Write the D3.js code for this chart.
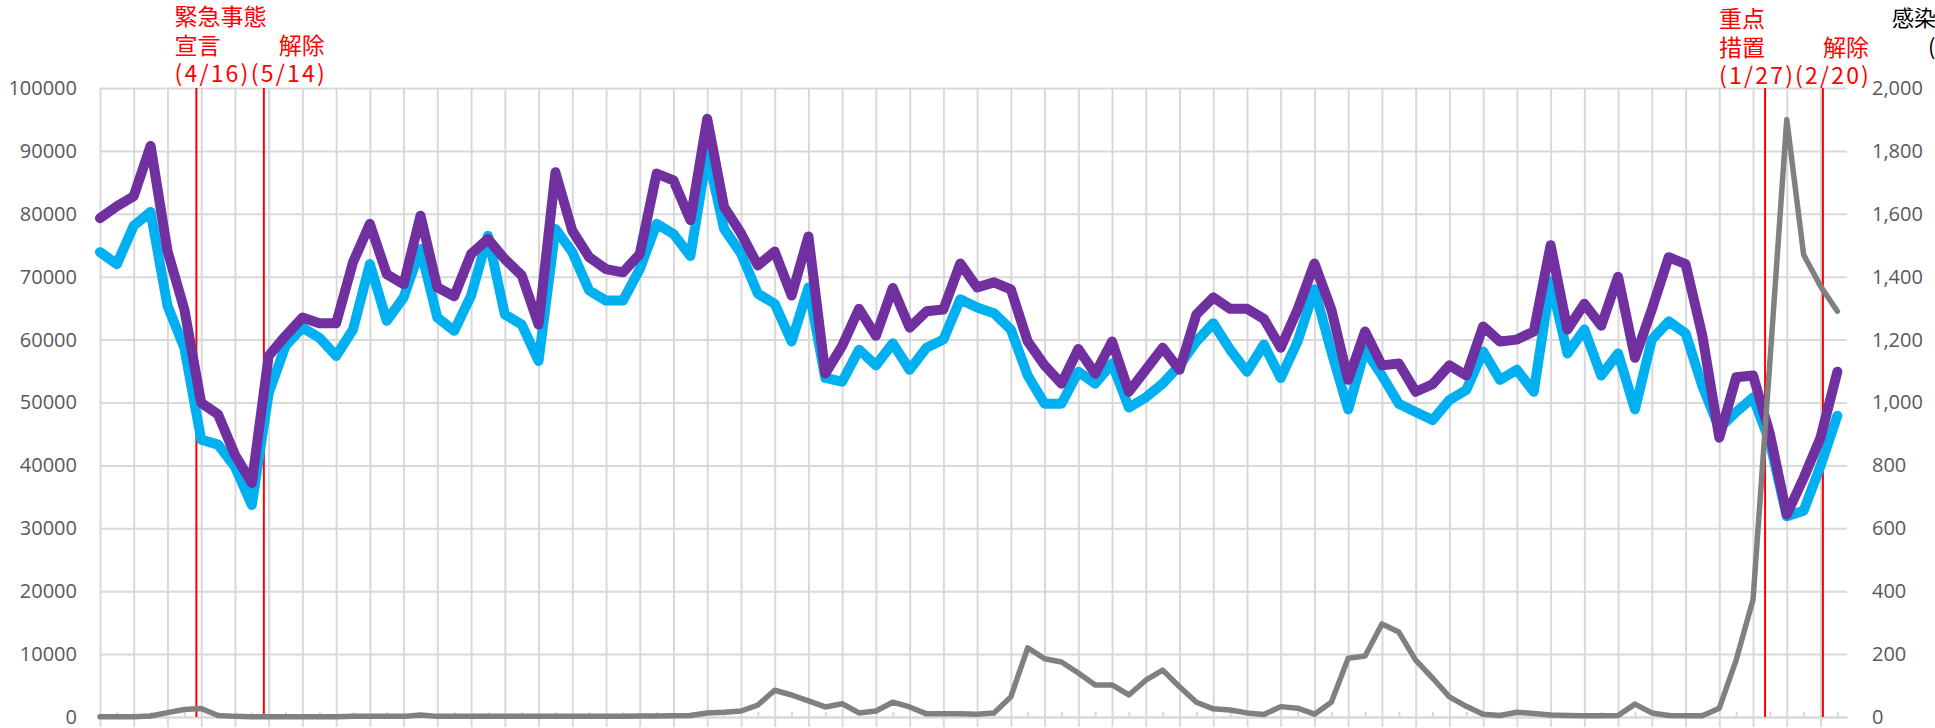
<!DOCTYPE html>
<html>
<head>
<meta charset="utf-8">
<script src="https://cdn.jsdelivr.net/npm/d3@7"></script>
<style>
  html, body { margin: 0; padding: 0; background: #fff; }
  svg { display: block; }
</style>
</head>
<body>
<div id="chart"></div>
<script>
// weekly series, first week starts 2020-03-07
const startDate = '2020-03-07'
const axisEndDate = '2022-03-02'

// purple line (left axis)
const purpleVals = [
  79300, 81200, 82800, 90800, 74100, 64800, 49950, 48100, 41700, 37200,
  57400, 60600, 63500, 62600, 62600, 72300, 78400, 70400, 68800, 79700,
  68300, 66900, 73600, 76000, 72800, 70200, 62400, 86600, 77300, 73100,
  71200, 70700, 73600, 86400, 85300, 79000, 95100, 81100, 76900, 71800,
  74000, 67000, 76400, 54600, 59000, 64900, 60600, 68200, 61900, 64500,
  64800, 72100, 68300, 69100, 68000, 59700, 55900, 53000, 58500, 54600,
  59700, 51700, 55200, 58700, 55200, 64000, 66700, 64900, 64900, 63300,
  58700, 64800, 72100, 64800, 53600, 61300, 55900, 56200, 51700, 52900,
  55900, 54300, 62100, 59700, 60000, 61300, 75000, 61600, 65700, 62200,
  70000, 57100, 64800, 73100, 72000, 60600, 44400, 54000, 54300, 45000,
  32200, 38000, 44400, 54900
]

// cyan line (left axis)
const cyanVals = [
  73900, 72000, 78100, 80300, 65400, 58700, 44100, 43300, 39800, 33700,
  51500, 59000, 61900, 60300, 57400, 61600, 72000, 63000, 66700, 74400,
  63500, 61400, 67000, 76500, 64000, 62400, 56600, 77600, 73900, 67800,
  66200, 66200, 71200, 78400, 76800, 73300, 89700, 77600, 73700, 67300,
  65700, 59700, 68300, 53900, 53300, 58400, 55900, 59400, 55200, 58700,
  60000, 66400, 65100, 64200, 61600, 54300, 49800, 49800, 54900, 53000,
  56200, 49200, 50800, 53000, 55900, 59700, 62600, 58400, 54900, 59200,
  53900, 59700, 68000, 58100, 48900, 58400, 54300, 49800, 48500, 47200,
  50400, 52000, 58100, 53600, 55200, 51700, 69300, 57800, 61600, 54300,
  57800, 48900, 60000, 62900, 61000, 52600, 45900, 48500, 50800, 43700,
  31900, 32800, 39900, 47900
]

// grey line: 感染者数 (right axis)
const infectedVals = [
  1, 1, 1, 3, 14, 24, 27, 5, 2, 1,
  1, 1, 1, 1, 1, 2, 2, 2, 2, 6,
  2, 2, 2, 2, 2, 2, 2, 2, 2, 2,
  2, 2, 3, 3, 4, 5, 13, 15, 19, 38,
  85, 70, 51, 32, 42, 13, 19, 47, 32, 10,
  10, 10, 9, 13, 64, 220, 185, 175, 140, 102,
  102, 70, 117, 149, 96, 47, 26, 22, 13, 8,
  33, 28, 9, 47, 187, 194, 296, 270, 181, 124,
  64, 34, 9, 5, 15, 11, 6, 5, 4, 4,
  5, 41, 13, 5, 4, 4, 28, 181, 373, 1130,
  1900, 1470, 1370, 1290
]

const leftTicks = [0, 10000, 20000, 30000, 40000, 50000, 60000, 70000, 80000, 90000, 100000]
const rightTicks = [0, 200, 400, 600, 800, 1000, 1200, 1400, 1600, 1800, 2000]

const markerDates = ['2020-04-16', '2020-05-14', '2022-01-27', '2022-02-20']
const markerLabels = [
  ['緊急事態', '宣言', '(4/16)'],
  ['', '解除', '(5/14)'],
  ['重点', '措置', '(1/27)'],
  ['', '解除', '(2/20)']
]

const titleLines = ['感染者数', '(人)']

// ---- layout ----
const width = 1935
const height = 728
const margin = { left: 100, right: 88, top: 88, bottom: 11 }
const plotW = width - margin.left - margin.right
const plotH = height - margin.top - margin.bottom

const gridColor = '#d9d9d9'
const labelColor = '#595959'
const numFont = '"Open Sans", "Noto Sans", sans-serif'
const jpFont = '"Noto Sans CJK JP", "Noto Sans", sans-serif'

const t0 = new Date(startDate)
const weeks = d3.range(purpleVals.length).map(i => d3.utcDay.offset(t0, i * 7))

const x = d3.scaleUtc()
  .domain([t0, new Date(axisEndDate)])
  .range([margin.left, margin.left + plotW])

const yL = d3.scaleLinear()
  .domain([0, 100000])
  .range([margin.top + plotH, margin.top])

const yR = d3.scaleLinear()
  .domain([0, 2000])
  .range([margin.top + plotH, margin.top])

const svg = d3.select('#chart')
  .append('svg')
  .attr('width', width)
  .attr('height', height)

// horizontal grid + left labels
const gLeft = svg.append('g')
  .attr('transform', `translate(${margin.left},0)`)
  .call(d3.axisLeft(yL).tickValues(leftTicks).tickSize(-plotW).tickPadding(23).tickFormat(d => d))
gLeft.select('.domain').remove()
gLeft.selectAll('line').attr('stroke', gridColor).attr('stroke-width', 2)
gLeft.selectAll('text')
  .attr('fill', labelColor)
  .attr('font-size', 20)
  .attr('font-family', numFont)

// right labels
const gRight = svg.append('g')
  .attr('transform', `translate(${margin.left + plotW},0)`)
  .call(d3.axisRight(yR).tickValues(rightTicks).tickSize(0).tickPadding(25).tickFormat(d3.format(',')))
gRight.select('.domain').remove()
gRight.selectAll('text')
  .attr('fill', labelColor)
  .attr('font-size', 20)
  .attr('font-family', numFont)

// vertical grid every 2 weeks (runs a bit below the axis)
const majorWeeks = weeks.filter((d, i) => i % 2 === 0)
const minorWeeks = weeks.filter((d, i) => i % 2 === 1)

const gGrid = svg.append('g')
  .attr('transform', `translate(0,${margin.top})`)
  .call(d3.axisBottom(x).tickValues(majorWeeks).tickSize(plotH + 10).tickFormat(''))
gGrid.select('.domain').remove()
gGrid.selectAll('line').attr('stroke', gridColor).attr('stroke-width', 2)

// minor ticks, inside
const gMinor = svg.append('g')
  .attr('transform', `translate(0,${margin.top + plotH})`)
  .call(d3.axisBottom(x).tickValues(minorWeeks).tickSize(-5).tickSizeOuter(0).tickFormat(''))
gMinor.select('.domain').attr('stroke', gridColor).attr('stroke-width', 2)
gMinor.selectAll('line').attr('stroke', gridColor).attr('stroke-width', 2)

// red marker lines
svg.append('g')
  .selectAll('line')
  .data(markerDates)
  .join('line')
  .attr('x1', d => x(new Date(d)))
  .attr('x2', d => x(new Date(d)))
  .attr('y1', margin.top)
  .attr('y2', margin.top + plotH)
  .attr('stroke', '#ff0000')
  .attr('stroke-width', 2)

// series
const lineL = d3.line().x((d, i) => x(weeks[i])).y(d => yL(d))
const lineR = d3.line().x((d, i) => x(weeks[i])).y(d => yR(d))

const series = [
  { vals: cyanVals, gen: lineL, color: '#00b0f0', w: 10 },
  { vals: purpleVals, gen: lineL, color: '#7030a0', w: 10 },
  { vals: infectedVals, gen: lineR, color: '#808080', w: 5.5 }
]

svg.append('g')
  .selectAll('path')
  .data(series)
  .join('path')
  .attr('d', d => d.gen(d.vals))
  .attr('fill', 'none')
  .attr('stroke', d => d.color)
  .attr('stroke-width', d => d.w)
  .attr('stroke-linejoin', 'round')
  .attr('stroke-linecap', 'round')

// marker labels
const markerLayout = [
  { anchor: 'start', dx: -22, y0: 25 },
  { anchor: 'end', dx: 61, y0: 25 },
  { anchor: 'start', dx: -46, y0: 27 },
  { anchor: 'end', dx: 46, y0: 27 }
]
const lineGap = 28.5

markerDates.forEach((d, k) => {
  const lay = markerLayout[k]
  const txt = svg.append('text')
    .attr('fill', '#ff0000')
    .attr('font-size', 23)
    .attr('font-family', jpFont)
    .attr('text-anchor', lay.anchor)
  markerLabels[k].forEach((s, j) => {
    const span = txt.append('tspan')
      .attr('x', x(new Date(d)) + lay.dx)
      .attr('y', lay.y0 + j * lineGap)
      .text(s)
    // the dates are set wider in the original
    if (s.startsWith('(')) {
      span.attr('textLength', 74).attr('lengthAdjust', 'spacing')
    }
  })
})

// axis title (cut at the right edge)
svg.append('text')
  .attr('fill', '#000')
  .attr('font-size', 22)
  .attr('font-family', jpFont)
  .selectAll('tspan')
  .data(titleLines)
  .join('tspan')
  .attr('x', (d, i) => i === 0 ? 1892 : 1928)
  .attr('y', (d, i) => 26 + i * 29)
  .text(d => d)
</script>
</body>
</html>
